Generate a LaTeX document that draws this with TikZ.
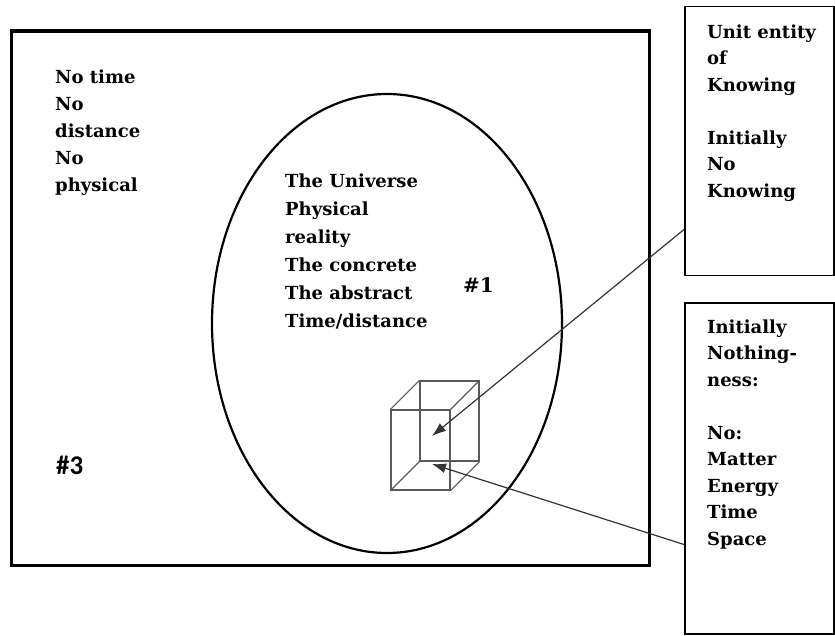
\documentclass[tikz,border=0pt]{standalone}
\usepackage{fontspec}
\setmainfont{DejaVu Serif}
\newfontfamily\hashfont{Carlito}
\usetikzlibrary{shapes.geometric,arrows.meta}
\tikzset{
  lbl/.style={anchor=north west, inner sep=0pt, align=left,
    font=\fontsize{18}{27}\selectfont\bfseries},
  framebox/.style={draw, anchor=north west, inner sep=0pt, line width=1.5pt},
  face/.style={draw=black!65, line width=1.1pt, inner sep=0pt},
  edge/.style={draw=black!65, line width=1.1pt},
  pointer/.style={draw=black!80, line width=1.2pt, -{Latex[length=14pt,width=10pt]}}
}
\begin{document}
\begin{tikzpicture}[x=1pt,y=-1pt]
\useasboundingbox (0,0) rectangle (835,636);
% outer frame
\node (outer) [draw, line width=3.2pt, anchor=north west, inner sep=0pt,
  minimum width=638pt, minimum height=534pt] at (9.5,29.5) {};
% ellipse
\node (uni) [ellipse, draw, line width=2.2pt, minimum width=350pt,
  minimum height=459pt] at (387,323.5) {};
% side boxes
\node (kbox) [framebox, minimum width=149pt, minimum height=269pt] at (684,6) {};
\node (nbox) [framebox, minimum width=149pt, minimum height=331pt] at (684,302) {};
% texts
\node (notime) [lbl] at (55,69.5) {No time\\No\\distance\\No\\physical};
\node (univ) [lbl, font=\fontsize{18}{28}\selectfont\bfseries] at (285,173.5)
  {The Universe\\Physical\\reality\\The concrete\\The abstract\\Time/distance};
\node (h1) [anchor=base west, inner sep=0pt, font=\fontsize{20}{24}\selectfont\bfseries] at (463,292) {\#1};
\node (h3) [anchor=base west, inner sep=0pt, font=\fontsize{27}{30}\selectfont\hashfont\bfseries] at (56,474) {\#3};
\node (ktext) [lbl, font=\fontsize{18}{26.5}\selectfont\bfseries] at (707,24.5)
  {Unit entity\\of\\Knowing\\[26.5pt]Initially\\No\\Knowing};
\node (ntext) [lbl, font=\fontsize{18}{26.5}\selectfont\bfseries] at (707,319.5)
  {Initially\\Nothing-\\ness:\\[26.5pt]No:\\Matter\\Energy\\Time\\Space};
% cube
\node (back) [face, minimum width=59pt, minimum height=80pt] at (449.5,421) {};
\node (front) [face, minimum width=59pt, minimum height=80pt] at (420.5,450) {};
\draw[edge] (front.north west) -- (back.north west);
\draw[edge] (front.north east) -- (back.north east);
\draw[edge] (front.south west) -- (back.south west);
\draw[edge] (front.south east) -- (back.south east);
% arrows
\coordinate (t1) at (432,436);
\coordinate (t2) at (432,464);
\draw[pointer] ([yshift=47pt]kbox.south west) -- (t1);
\draw[pointer] ([yshift=90pt]nbox.south west) -- (t2);
\end{tikzpicture}
\end{document}
